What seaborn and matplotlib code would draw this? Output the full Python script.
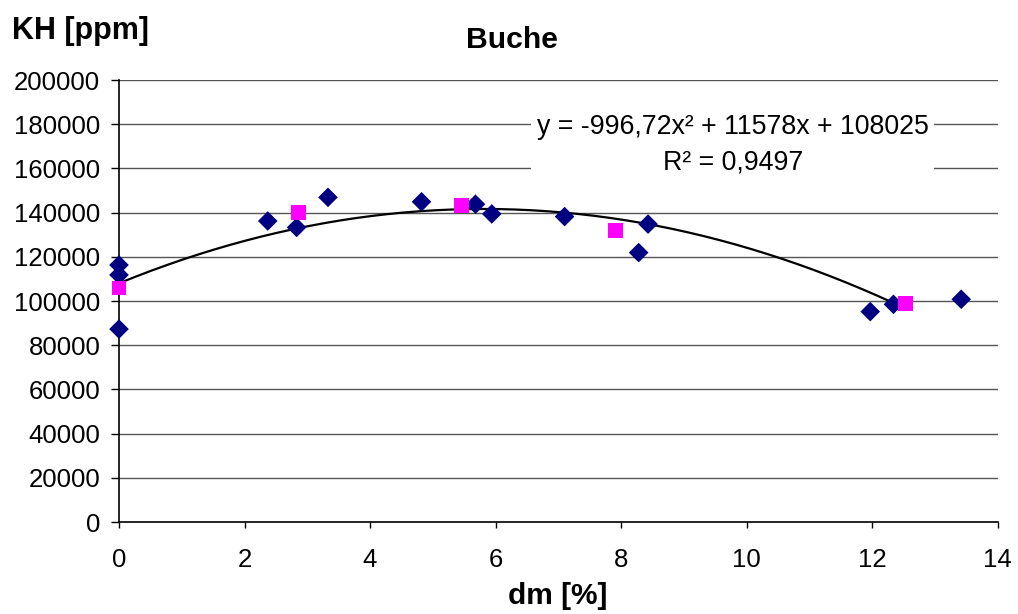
import numpy as np
import pandas as pd
import matplotlib
matplotlib.use("Agg")
import matplotlib.pyplot as plt
import seaborn as sns

# Einzelmessungen (Rauten)
dm_mess = [0.0, 0.0, 0.0, 2.37, 2.83, 3.33, 4.82, 5.68, 5.94, 7.10, 8.28, 8.43, 11.97, 12.34, 13.42]
kh_mess = [116300, 111800, 87300, 136200, 133300, 146900, 144900, 143800, 139400, 138200, 121900, 134800, 95200, 98500, 100800]

# Mittelwerte (Quadrate)
dm_mittel = [0.0, 2.86, 5.46, 7.91, 12.53]
kh_mittel = [105900, 140000, 143400, 132100, 99000]

# Polynomische Trendlinie 2. Ordnung
coef = [-996.72, 11578, 108025]
r2 = 0.9497
x_trend_max = 12.53

x_ticks = [0, 2, 4, 6, 8, 10, 12, 14]
y_ticks = list(range(0, 200001, 20000))

sns.set_theme(style="white")
plt.rcParams["font.family"] = ["Liberation Sans", "DejaVu Sans"]
plt.rcParams["text.color"] = "black"

fig = plt.figure(figsize=(10.18, 6.14), dpi=100)
ax = fig.add_axes([0.1169, 0.1498, 0.8631, 0.7199])

df_mess = pd.DataFrame({"dm": dm_mess, "kh": kh_mess})
df_mittel = pd.DataFrame({"dm": dm_mittel, "kh": kh_mittel})
xs = np.linspace(0, x_trend_max, 200)
df_trend = pd.DataFrame({"dm": xs, "kh": np.polyval(coef, xs)})

# Gitterlinien
for yv in y_ticks[1:]:
    ax.axhline(yv, color="#555555", lw=1.0, zorder=0)

sns.lineplot(data=df_trend, x="dm", y="kh", ax=ax, color="black", lw=1.6, zorder=2)
sns.scatterplot(data=df_mess, x="dm", y="kh", ax=ax, marker="D", s=100,
                color="#000080", edgecolor="none", zorder=3, clip_on=False)
sns.scatterplot(data=df_mittel, x="dm", y="kh", ax=ax, marker="s", s=115,
                color="#FF00FF", edgecolor="none", zorder=3, clip_on=False)

ax.set_xlim(0, 14)
ax.set_ylim(0, 200000)
ax.set_xticks(x_ticks)
ax.set_yticks(y_ticks)
ax.set_xticklabels([str(v) for v in x_ticks])
ax.set_yticklabels([str(v) for v in y_ticks])
ax.tick_params(axis="both", which="major", direction="out", width=1,
               color="black", labelsize=18.5, labelcolor="black",
               bottom=True, left=True)
ax.tick_params(axis="y", length=5.5, pad=8)
ax.tick_params(axis="x", length=4.5, pad=14)

for side in ["top", "right"]:
    ax.spines[side].set_visible(False)
for side in ["left", "bottom"]:
    ax.spines[side].set_color("black")
    ax.spines[side].set_linewidth(1.2)

ax.set_xlabel("")
ax.set_ylabel("")
fig.text(0.0118, 1 - 39 / 614, "KH [ppm]", fontsize=22, fontweight="bold",
         ha="left", va="baseline")
fig.text(0.5031, 1 - 48 / 614, "Buche", fontsize=21.7, fontweight="bold",
         ha="center", va="baseline")
fig.text(0.5474, 1 - 604 / 614, "dm [%]", fontsize=21.5, fontweight="bold",
         ha="center", va="baseline")

eq = f"y = -996,72x² + 11578x + 108025\nR² = {str(r2).replace('.', ',')}"
ax.text(9.78, 170800, eq, fontsize=19.3, ha="center", va="center",
        multialignment="center", linespacing=1.45, zorder=4,
        bbox=dict(facecolor="white", edgecolor="none", pad=4))

fig.savefig("out.png", dpi=100)
